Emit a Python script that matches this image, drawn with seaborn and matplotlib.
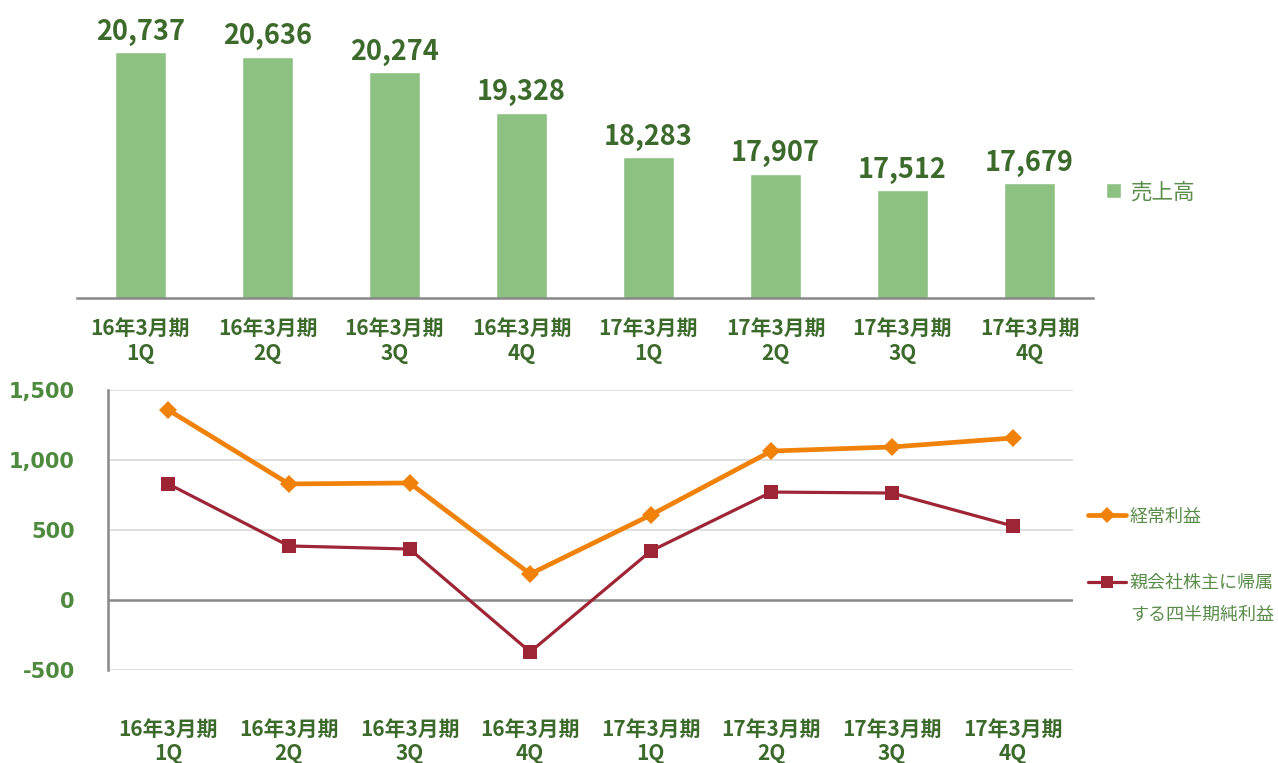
import seaborn as sns
import matplotlib.pyplot as plt
import pandas as pd

# 四半期ラベル
quarters = ["16年3月期\n1Q", "16年3月期\n2Q", "16年3月期\n3Q", "16年3月期\n4Q",
            "17年3月期\n1Q", "17年3月期\n2Q", "17年3月期\n3Q", "17年3月期\n4Q"]
# 売上高
sales = [20737, 20636, 20274, 19328, 18283, 17907, 17512, 17679]
# 経常利益
ordinary = [1357, 829, 836, 186, 607, 1064, 1093, 1157]
# 親会社株主に帰属する四半期純利益
net_income = [829, 386, 364, -371, 350, 771, 764, 529]

sns.set_theme(style="white")
plt.rcParams['font.family'] = ['Noto Sans CJK JP', 'DejaVu Sans']

BAR_C = "#8dc182"
ORANGE = "#f0820a"
RED = "#9e2536"
DARK_G = "#3b6a2b"
MID_G = "#4e8a3e"
LEG_G = "#5a8c4a"
AXIS_C = "#888888"

W, H = 1278, 763
fig = plt.figure(figsize=(W / 100, H / 100), dpi=100)

# ---- 上段：売上高の棒グラフ ----
ax1 = fig.add_axes([77 / W, 1 - 298 / H, 1016 / W, 298 / H])
df_bar = pd.DataFrame({"q": quarters, "sales": sales})
sns.barplot(data=df_bar, x="q", y="sales", color=BAR_C, width=0.4,
            saturation=1, label="売上高", ax=ax1)
ax1.set_ylim(15000, 21960)
ax1.set_xlim(-0.5, 7.5)
for i, v in enumerate(sales):
    ax1.text(i, v + 150, f"{v:,}", ha="center", va="bottom", fontsize=19.5,
             fontweight="bold", color=DARK_G)
for s in ["top", "right", "left"]:
    ax1.spines[s].set_visible(False)
ax1.spines["bottom"].set_color(AXIS_C)
ax1.spines["bottom"].set_linewidth(1.8)
ax1.set_yticks([])
ax1.set_xlabel("")
ax1.set_ylabel("")
ax1.tick_params(axis="x", length=0, pad=14)
for t in ax1.get_xticklabels():
    t.set_fontsize(15)
    t.set_fontweight("bold")
    t.set_color(DARK_G)
    t.set_linespacing(1.25)
ax1.legend(loc="center left", bbox_to_anchor=(0.994, 0.355), frameon=False,
           fontsize=15.5, labelcolor=LEG_G, handlelength=0.7, handleheight=0.7,
           handletextpad=0.4)

# ---- 下段：利益の折れ線グラフ ----
ax2 = fig.add_axes([108 / W, 1 - 670 / H, 965 / W, 280 / H])
df_line = pd.DataFrame({"q": quarters, "ordinary": ordinary, "net": net_income})
sns.lineplot(data=df_line, x="q", y="ordinary", color=ORANGE, linewidth=3.4,
             marker="D", markersize=9.5, markeredgewidth=0, label="経常利益",
             sort=False, ax=ax2)
sns.lineplot(data=df_line, x="q", y="net", color=RED, linewidth=2.3,
             marker="s", markersize=10, markeredgewidth=0,
             label="親会社株主に帰属", sort=False, ax=ax2)
ax2.set_ylim(-500, 1500)
ax2.set_xlim(-0.5, 7.5)
ax2.set_yticks([-500, 0, 500, 1000, 1500])
ax2.set_yticklabels([f"{v:,}" for v in [-500, 0, 500, 1000, 1500]],
                    family="DejaVu Sans", fontweight="bold", fontsize=15,
                    color=MID_G)
for y in [1500, 1000, 500, -500]:
    ax2.axhline(y, color="#d9d9d9", linewidth=1.2, zorder=0)
ax2.axhline(0, color=AXIS_C, linewidth=1.8, zorder=1)
for s in ["top", "right", "bottom"]:
    ax2.spines[s].set_visible(False)
ax2.spines["left"].set_color(AXIS_C)
ax2.spines["left"].set_linewidth(1.8)
ax2.set_xlabel("")
ax2.set_ylabel("")
ax2.tick_params(axis="y", length=0, pad=24)
ax2.tick_params(axis="x", length=0, pad=35)
for t in ax2.get_xticklabels():
    t.set_fontsize(15)
    t.set_fontweight("bold")
    t.set_color(DARK_G)
    t.set_linespacing(1.2)
ax2.legend(loc="center left", bbox_to_anchor=(0.999, 0.429), frameon=False,
           fontsize=13, labelcolor=LEG_G, handlelength=2.1,
           handletextpad=0.2, labelspacing=2.68, markerscale=0.9)
# 凡例2行目
fig.text(1130 / W, 1 - 615 / H, "する四半期純利益", fontsize=13, color=LEG_G,
         ha="left", va="center")

fig.savefig("out.png", dpi=100)
